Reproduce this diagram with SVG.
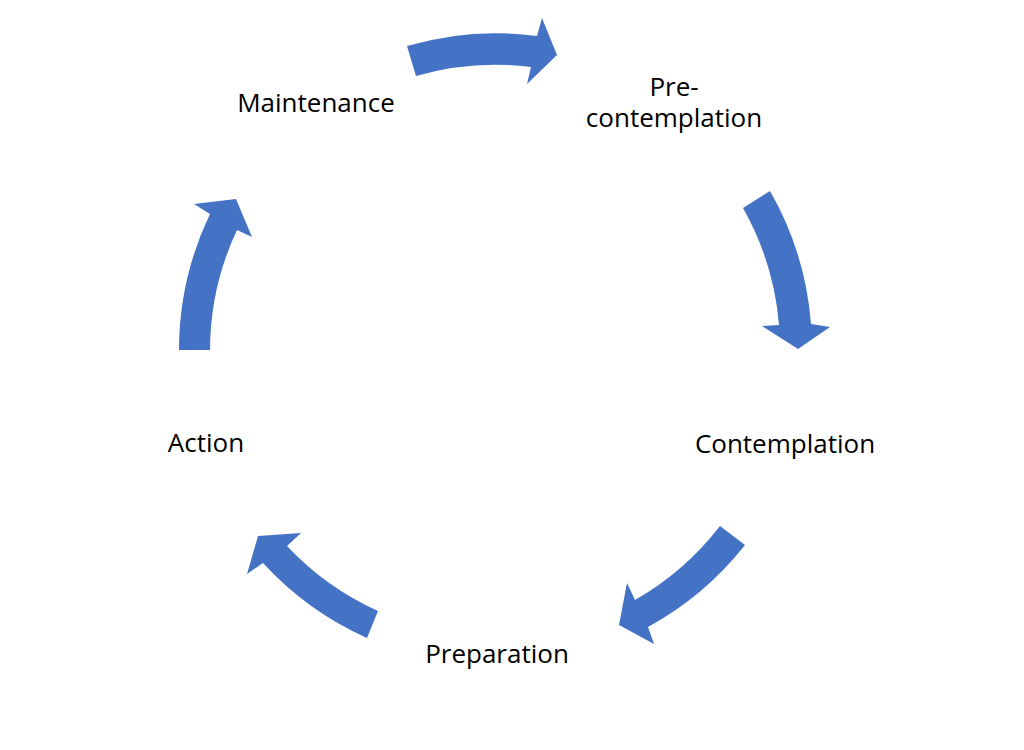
<svg xmlns="http://www.w3.org/2000/svg" width="1024" height="750" viewBox="0 0 1024 750">
<style>
.arrow{fill:#4472C4;stroke:none}
.label{font-family:"Open Sans","Liberation Sans",sans-serif;font-size:26px;fill:#000;text-anchor:middle}
</style>
<rect width="1024" height="750" fill="#fff"/>
<g id="connectors">
<path class="arrow" d="M179,350 A315,315 0 0 1 210,214 L194,204 L236,199 L252,237 L237,230 A284,284 0 0 0 210,350 Z"/>
<path class="arrow" d="M407,46 A315,315 0 0 1 537,36 L542,18 L557,55 L527,84 L531,67 A284,284 0 0 0 416,76 Z"/>
<path class="arrow" d="M770,191 A316,316 0 0 1 811,324 L830,327 L798,349 L762,326 L779,325 A285,285 0 0 0 743,208 Z"/>
<path class="arrow" d="M745,545 A317,317 0 0 1 648,627 L654,644 L619,625 L627,583 L635,600 A287,287 0 0 0 720,526 Z"/>
<path class="arrow" d="M367,638 A316,316 0 0 1 263,563 L247,574 L258,536 L301,533 L287,546 A286,286 0 0 0 378,611 Z"/>
</g>
<g id="node-maintenance"><text class="label" x="316" y="112">Maintenance</text></g>
<g id="node-precontemplation"><text class="label" x="674" y="96"><tspan x="674" y="96">Pre-</tspan><tspan x="674" y="127">contemplation</tspan></text></g>
<g id="node-contemplation"><text class="label" x="785" y="453">Contemplation</text></g>
<g id="node-preparation"><text class="label" x="497" y="663">Preparation</text></g>
<g id="node-action"><text class="label" x="206" y="452">Action</text></g>
</svg>
